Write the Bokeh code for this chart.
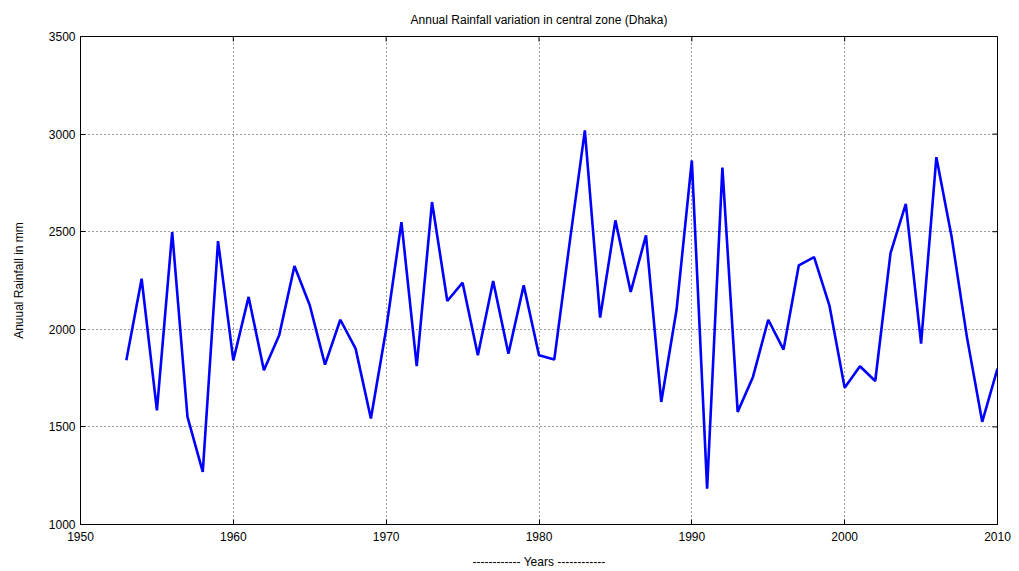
import math
from bokeh.plotting import figure
from bokeh.models import FixedTicker, Range1d, ColumnDataSource
from bokeh.embed import file_html
from bokeh.resources import INLINE

years = list(range(1953, 2011))
rainfall = [1841, 2259, 1585, 2498, 1551, 1270, 2452, 1841, 2166, 1790,
            1969, 2324, 2123, 1819, 2049, 1901, 1543, 2000, 2549, 1811,
            2652, 2145, 2239, 1867, 2247, 1875, 2225, 1867, 1845, 2440,
            3019, 2060, 2558, 2191, 2481, 1628, 2100, 2865, 1184, 2828,
            1577, 1756, 2049, 1896, 2328, 2370, 2123, 1700, 1811, 1735,
            2390, 2643, 1927, 2882, 2473, 1960, 1526, 1799]
x_ticks = [1950, 1960, 1970, 1980, 1990, 2000, 2010]
y_ticks = [1000, 1500, 2000, 2500, 3000, 3500]

FONT = "Liberation Sans"
X0, X1 = x_ticks[0], x_ticks[-1]
Y0, Y1 = y_ticks[0], y_ticks[-1]

p = figure(width=1019, height=571, output_backend="svg", toolbar_location=None,
           x_range=Range1d(X0, X1), y_range=Range1d(Y0, Y1),
           min_border_left=80, min_border_right=22, min_border_top=36, min_border_bottom=47,
           title="Annual Rainfall variation in central zone (Dhaka)")
p.title.align = "center"
p.title.text_font = FONT
p.title.text_font_size = "12px"
p.title.text_font_style = "normal"
p.title.text_color = "black"
p.title.standoff = 20

p.outline_line_color = "black"
p.outline_line_width = 1
p.background_fill_color = "white"
p.border_fill_color = "white"

p.xgrid.ticker = FixedTicker(ticks=x_ticks)
p.ygrid.ticker = FixedTicker(ticks=y_ticks)
p.grid.grid_line_color = "black"
p.grid.grid_line_dash = "1 3"
p.grid.grid_line_width = 1
p.grid.grid_line_alpha = 0.8

src = ColumnDataSource(dict(year=years, rain=rainfall))
p.line("year", "rain", source=src, line_color="#0000ff", line_width=2.6)

# inward ticks on the top and right edges of the box
p.ray(x=x_ticks, y=[Y1] * len(x_ticks), length=5, length_units="screen",
      angle=-math.pi / 2, line_color="black", line_width=1)
p.ray(x=[X1] * len(y_ticks), y=y_ticks, length=5, length_units="screen",
      angle=math.pi, line_color="black", line_width=1)

for ax in (p.xaxis[0], p.yaxis[0]):
    ax.major_tick_in = 5
    ax.major_tick_out = 0
    ax.minor_tick_line_color = None
    ax.axis_line_color = "black"
    ax.major_tick_line_color = "black"
    ax.major_label_text_font = FONT
    ax.major_label_text_font_size = "12px"
    ax.major_label_text_color = "black"
    ax.axis_label_text_font = FONT
    ax.axis_label_text_font_size = "12px"
    ax.axis_label_text_font_style = "normal"
    ax.axis_label_text_color = "black"

p.xaxis[0].ticker = FixedTicker(ticks=x_ticks)
p.yaxis[0].ticker = FixedTicker(ticks=y_ticks)
p.xaxis[0].major_label_standoff = 7
p.yaxis[0].major_label_standoff = 5
p.xaxis[0].axis_label = "------------ Years ------------"
p.yaxis[0].axis_label = "Anuual Rainfall in mm"
p.xaxis[0].axis_label_standoff = 11
p.yaxis[0].axis_label_standoff = 20

open("out.html", "w").write(file_html(p, INLINE))
